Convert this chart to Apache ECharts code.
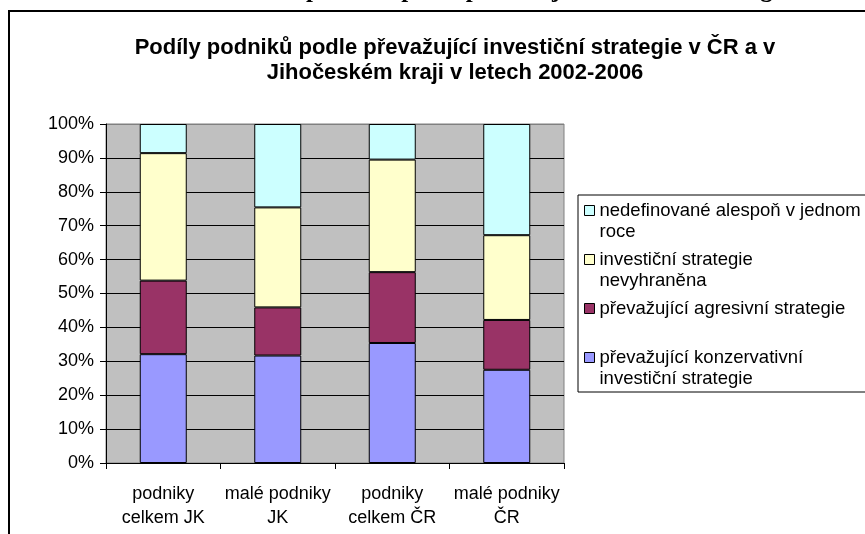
<!DOCTYPE html>
<html>
<head>
<meta charset="utf-8">
<script src="https://cdn.jsdelivr.net/npm/echarts@6/dist/echarts.min.js"></script>
<style>
  html, body { margin: 0; padding: 0; background: #fff; }
  #chart { width: 865px; height: 534px; }
</style>
</head>
<body>
<div id="chart"></div>
<script>
// Categories on the x axis
const categories = ['podniky\ncelkem JK', 'malé podniky\nJK', 'podniky\ncelkem ČR', 'malé podniky\nČR'];

// Shares in percent, bottom of the stack first
const konzervativni = [32.1, 31.7, 35.4, 27.5];
const agresivni = [21.7, 14.2, 20.9, 14.7];
const nevyhranena = [37.6, 29.5, 33.2, 25.0];
const nedefinovane = [8.6, 24.6, 10.5, 32.8];

const seriesNames = [
  'převažující konzervativní investiční strategie',
  'převažující agresivní strategie',
  'investiční strategie nevyhraněna',
  'nedefinované alespoň v jednom roce'
];
// Legend labels: a leading blank line keeps the marker level with the first line of text
const legendLabels = {
  'převažující konzervativní investiční strategie': '\npřevažující konzervativní\ninvestiční strategie',
  'převažující agresivní strategie': '\npřevažující agresivní strategie\n ',
  'investiční strategie nevyhraněna': '\ninvestiční strategie\nnevyhraněna',
  'nedefinované alespoň v jednom roce': '\nnedefinované alespoň v jednom\nroce'
};
const seriesValues = [konzervativni, agresivni, nevyhranena, nedefinovane];
const seriesColors = ['#9999FF', '#993366', '#FFFFCC', '#CCFFFF'];

const yTicks = [0, 10, 20, 30, 40, 50, 60, 70, 80, 90, 100];

const FONT = '"Liberation Sans", Arial, sans-serif';

const chart = echarts.init(document.getElementById('chart'), null, { renderer: 'canvas' });

chart.setOption({
  animation: false,
  backgroundColor: '#fff',
  textStyle: { fontFamily: FONT, color: '#000' },
  title: {
    text: 'Podíly podniků podle převažující investiční strategie v ČR a v\nJihočeském kraji v letech 2002-2006',
    left: 450,
    top: 30,
    textAlign: 'center',
    textStyle: { fontFamily: FONT, fontWeight: 'bold', fontSize: 22, lineHeight: 25, color: '#000' }
  },
  graphic: [
    {
      type: 'rect', silent: true, z: -1,
      shape: { x: 9, y: 11, width: 900, height: 600 },
      style: { fill: '#fff', stroke: '#000', lineWidth: 2 }
    },
    {
      type: 'text', silent: true,
      x: 306, y: -9,
      style: {
        text: 'podniků podle převažující investiční strategie',
        font: 'bold 25px "Liberation Serif", "Times New Roman", serif',
        fill: '#000', verticalAlign: 'middle'
      }
    },
    {
      type: 'rect', silent: true, z: 0,
      shape: { x: 578, y: 195, width: 320, height: 197 },
      style: { fill: '#fff', stroke: '#000', lineWidth: 1 }
    }
  ],
  legend: {
    orient: 'vertical',
    left: 584,
    top: 179,
    padding: 0,
    data: seriesNames.slice().reverse(),
    icon: 'rect',
    itemWidth: 10,
    itemHeight: 10,
    itemGap: -14,
    formatter: name => legendLabels[name],
    textStyle: { fontFamily: FONT, fontSize: 18.5, lineHeight: 21, color: '#000' },
    itemStyle: { borderColor: '#000', borderWidth: 1 }
  },
  grid: {
    left: 106, right: 301, top: 124, bottom: 71,
    show: true, backgroundColor: '#C0C0C0', borderColor: '#808080', borderWidth: 1
  },
  xAxis: {
    type: 'category',
    data: categories,
    axisLine: { show: true, lineStyle: { color: '#000', width: 1 } },
    axisTick: { show: true, alignWithLabel: false, length: 6, lineStyle: { color: '#000' } },
    axisLabel: { fontFamily: FONT, fontSize: 18, lineHeight: 24, color: '#000', margin: 19, interval: 0 }
  },
  yAxis: {
    type: 'value',
    min: 0, max: 100, interval: 10,
    axisLine: { show: true, lineStyle: { color: '#000', width: 1 } },
    axisTick: { show: true, length: 6, lineStyle: { color: '#000' } },
    axisLabel: { fontFamily: FONT, fontSize: 18, color: '#000', margin: 12, formatter: v => yTicks.includes(v) ? v + '%' : '' },
    splitLine: {
      show: true,
      lineStyle: { color: ['#000', '#000', '#000', '#000', '#000', '#000', '#000', '#000', '#000', '#000', '#808080'], width: 1 }
    }
  },
  series: seriesNames.map((name, i) => ({
    name,
    type: 'bar',
    stack: 'podil',
    barWidth: 47,
    data: seriesValues[i],
    itemStyle: { color: seriesColors[i], borderColor: '#000', borderWidth: 1 },
    emphasis: { disabled: true }
  }))
});
</script>
</body>
</html>
